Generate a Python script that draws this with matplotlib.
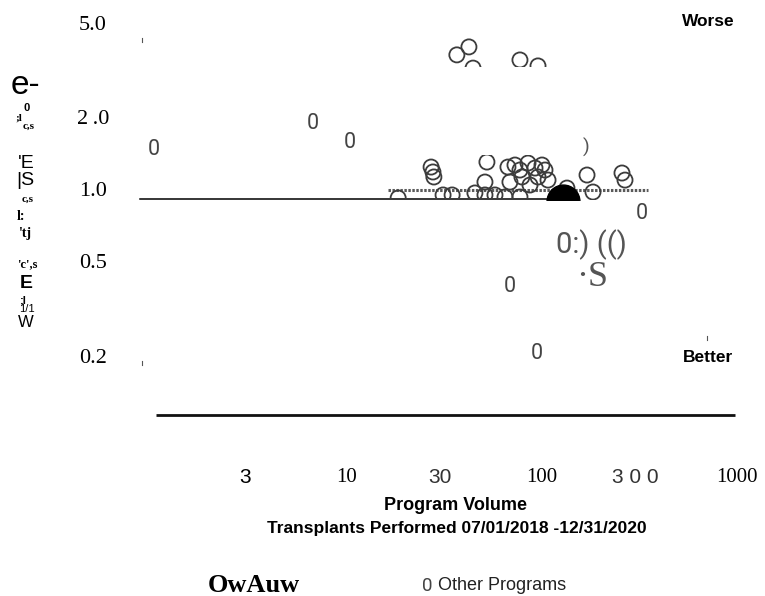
import matplotlib
matplotlib.use("Agg")
import matplotlib.pyplot as plt
from matplotlib.transforms import Bbox, TransformedBbox
from matplotlib.lines import Line2D

# ---- data -------------------------------------------------------------
# other programs drawn as "0" glyphs
glyph_volume = [1.02, 6.69, 10.4, 326, 68.5, 94.2]
glyph_ratio = [1.50, 1.94, 1.60, 0.81, 0.40, 0.21]

# other programs drawn as circles, upper group
upper_volume = [36.6, 42.2, 77.1, 95.4, 44.3]
upper_ratio = [3.75, 4.05, 3.57, 3.37, 3.30]

# other programs drawn as circles, central group
mid_volume = [27.0, 27.9, 27.6, 52.2, 51.0, 66.9, 72.7, 84.8, 100, 78.9,
              95.4, 103.6, 170.2, 182.6, 257.2, 266.5, 134.3, 18.3, 31.1,
              34.6, 45.3, 51.0, 57.4, 64.6, 77.1, 77.1, 92.1, 68.5, 86.8,
              107.4]
mid_ratio = [1.268, 1.152, 1.209, 1.331, 1.097, 1.268, 1.293, 1.318, 1.293,
             1.152, 1.152, 1.232, 1.174, 0.996, 1.197, 1.118, 1.035, 0.940,
             0.968, 0.968, 0.987, 0.968, 0.968, 0.949, 0.949, 1.232, 1.256,
             1.097, 1.066, 1.118]

# highlighted program
this_volume = [128]
this_ratio = [0.913]

# reference lines (volume range, ratio level)
ref_solid_x = [0.868, 107]
ref_solid_y = 0.931
ref_dotted_x = [16.2, 350]
ref_dotted_y = 1.011
base_x = [1.048, 977]
base_y = 0.1154

ytick_values = [5.0, 2.0, 1.0, 0.5, 0.2]
ytick_labels = ["5.0", "2\u2009.0", "1.0", "0.5", "0.2"]
xtick_values = [3, 10, 30, 100, 300, 1000]
xtick_labels = ["3", "10", "30", "100", "3 0 0", "1000"]
xtick_fonts = ["Liberation Sans", "Liberation Serif", "Liberation Sans",
               "Liberation Serif", "Liberation Sans", "Liberation Serif"]
xtick_colors = ["black", "black", "#333333", "black", "#333333", "black"]

# ---- figure -----------------------------------------------------------
W, H = 765, 596
fig = plt.figure(figsize=(W / 100, H / 100), dpi=100)
ax = fig.add_axes([0, 0, 1, 1])
ax.set_xscale("log")
ax.set_yscale("log")
ax.set_xlim(0.1662, 1392)
ax.set_ylim(0.02006, 6.374)
ax.axis("off")


def fx(px):
    return px / W


def fy(py):
    return 1 - py / H


def band(x0, y0, x1, y1):
    return TransformedBbox(Bbox.from_extents(fx(x0), fy(y1), fx(x1), fy(y0)),
                           fig.transFigure)


circle_kw = dict(s=118, facecolors="none", edgecolors="#3c3c3c",
                 linewidths=1.3, zorder=3)

up = ax.scatter(upper_volume, upper_ratio, **circle_kw)
up.set_clip_box(band(440, 38, 548, 67))

mid = ax.scatter(mid_volume, mid_ratio, **circle_kw)
mid.set_clip_box(band(388, 155, 650, 200))

# dotted reference inside the central band
dl, = ax.plot(ref_dotted_x, [ref_dotted_y] * 2, color="#5a5a5a", lw=2.2,
              linestyle=(0, (0.8, 0.5)), zorder=2)
dl.set_clip_box(band(388, 155, 650, 200))

# solid reference
ax.plot(ref_solid_x, [ref_solid_y] * 2, color="black", lw=1.1, zorder=2)

# highlighted program
big = ax.scatter(this_volume, this_ratio, s=560, color="black", zorder=4)
big.set_clip_box(band(388, 155, 650, 200))

# base line
ax.plot(base_x, [base_y] * 2, color="#111111", lw=2.0, solid_capstyle="butt")

# other programs as glyphs
for v, r in zip(glyph_volume, glyph_ratio):
    ax.text(v, r, "0", ha="center", va="center", fontsize=15.5,
            family=["Roboto", "DejaVu Sans"], color="#444444")

# y tick labels
for v, lab in zip(ytick_values, ytick_labels):
    ax.text(0.498, v, lab, ha="center", va="center", fontsize=16,
            family=["Liberation Serif", "DejaVu Serif"], color="black")

# x tick labels
for v, lab, fam, col in zip(xtick_values, xtick_labels, xtick_fonts,
                            xtick_colors):
    ax.text(v, 0.0633, lab, ha="center", va="center", fontsize=15,
            family=[fam, "DejaVu Sans"], color=col)

# stray tick marks
for (px, py) in [(142, 40), (142, 363), (707, 338)]:
    fig.add_artist(Line2D([fx(px), fx(px)], [fy(py - 2), fy(py + 2)],
                          color="#555555", lw=0.8))

# scattered text fragments in the plot area
fig.text(fx(586), fy(147), ")", ha="center", va="center", fontsize=14,
         family=["Roboto", "DejaVu Sans"], color="#555555")
fig.text(fx(591), fy(245), "0:) (()", ha="center", va="center", fontsize=21,
         family=["Liberation Sans Narrow", "Roboto", "DejaVu Sans"],
         color="#555555")
fig.text(fx(592), fy(277), "\u00b7S", ha="center", va="center", fontsize=26,
         family=["Liberation Serif", "DejaVu Serif"], color="#555555")

fig.text(fx(708), fy(22), "Worse", ha="center", va="center", fontsize=12.5,
         fontweight="bold", family=["Liberation Sans", "DejaVu Sans"])
fig.text(fx(708), fy(357), "Better", ha="center", va="center", fontsize=12.5,
         fontweight="bold", family=["Liberation Sans", "DejaVu Sans"])

# axis titles
fig.text(fx(455), fy(506), "Program Volume", ha="center", va="center",
         fontsize=13, fontweight="bold",
         family=["Liberation Sans", "DejaVu Sans"])
fig.text(fx(457), fy(529), "Transplants Performed 07/01/2018 -12/31/2020",
         ha="center", va="center", fontsize=12.5, fontweight="bold",
         family=["Liberation Sans", "DejaVu Sans"])

# vertical title pieces
ylab_pieces = [
    ("e-", 25, 86, 24, "normal", "Liberation Sans"),
    ("0", 27, 108, 8, "bold", "Liberation Sans"),
    (";l", 19, 118, 8, "bold", "Liberation Serif"),
    ("c,s", 29, 126, 8, "bold", "Liberation Serif"),
    ("'E", 26, 163, 14, "normal", "Liberation Sans"),
    ("|S", 25, 181, 14, "normal", "Liberation Sans"),
    ("c,s", 28, 199, 8, "bold", "Liberation Serif"),
    ("l:", 21, 217, 10, "bold", "Liberation Serif"),
    ("'tj", 25, 233, 10, "bold", "Liberation Serif"),
    ("'c',s", 27, 264, 9, "bold", "Liberation Serif"),
    ("E", 26, 283, 14, "bold", "Liberation Sans"),
    (";l", 23, 300, 8, "bold", "Liberation Sans"),
    ("1/1", 27, 309, 8, "normal", "Liberation Sans"),
    ("W", 26, 322, 12, "normal", "Liberation Sans"),
]
for txt, px, py, size, weight, fam in ylab_pieces:
    fig.text(fx(px), fy(py), txt, ha="center", va="center", fontsize=size,
             fontweight=weight, family=[fam, "DejaVu Sans"])

# legend
fig.text(fx(254), fy(586), "OwAuw", ha="center", va="center", fontsize=19,
         fontweight="bold", family=["Liberation Serif", "DejaVu Serif"])
fig.text(fx(422), fy(586), "0", ha="left", va="center", fontsize=13.5,
         family=["Roboto", "DejaVu Sans"], color="#444444")
fig.text(fx(438), fy(586), "Other Programs", ha="left", va="center",
         fontsize=13, family=["Liberation Sans", "DejaVu Sans"],
         color="#222222")

fig.savefig("out.png", dpi=100)
